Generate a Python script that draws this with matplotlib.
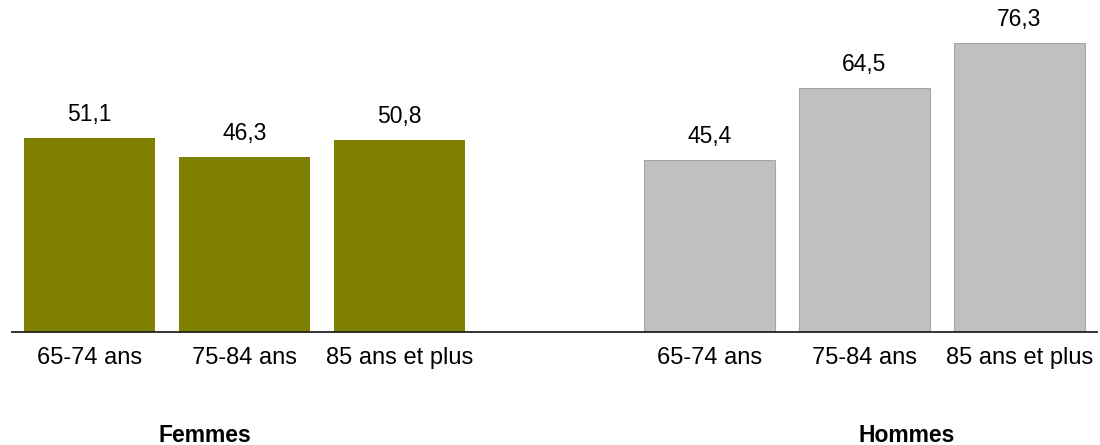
import numpy as np
import matplotlib.pyplot as plt
import matplotlib.transforms as mtransforms

plt.rcParams['font.family'] = ['Liberation Sans', 'DejaVu Sans']

groups = ['Femmes', 'Hommes']
age_labels = ['65-74 ans', '75-84 ans', '85 ans et plus']
femmes = [51.1, 46.3, 50.8]
hommes = [45.4, 64.5, 76.3]

# 3 bars, one empty slot, 3 bars
pos_f = np.arange(3)
pos_h = np.arange(3) + 4

fig = plt.figure(figsize=(11, 4.45), dpi=100)
ax = fig.add_axes([12 / 1100, 113 / 445, 1085 / 1100, 320 / 445])

ax.bar(pos_f, femmes, width=0.84, color='#808000', edgecolor='none')
ax.bar(pos_h, hommes, width=0.84, color='#c0c0c0', edgecolor='#a6a6a6', linewidth=0.8)

for x, v in zip(np.concatenate([pos_f, pos_h]), femmes + hommes):
    ax.annotate(f'{v:.1f}'.replace('.', ','), (x, v), xytext=(0, 17), textcoords='offset points',
                ha='center', va='center', fontsize=16.5, color='#000000')

ax.set_xlim(-0.5, 6.5)
ax.set_ylim(0, 84.5)
ax.set_xticks(np.concatenate([pos_f, pos_h]))
ax.set_xticklabels(age_labels + age_labels, fontsize=17, color='#000000')
ax.tick_params(axis='x', length=0, pad=11)
ax.set_yticks([])
for s in ['top', 'right', 'left']:
    ax.spines[s].set_visible(False)
ax.spines['bottom'].set_linewidth(1.3)
ax.spines['bottom'].set_color('#222222')

trans = mtransforms.blended_transform_factory(ax.transData, fig.transFigure)
for gx, g in zip([0.745, 5.27], groups):
    ax.text(gx, 10 / 445, g, transform=trans, ha='center', va='center',
            fontsize=16.5, fontweight='bold', color='#000000')

fig.savefig('out.png', dpi=100)
